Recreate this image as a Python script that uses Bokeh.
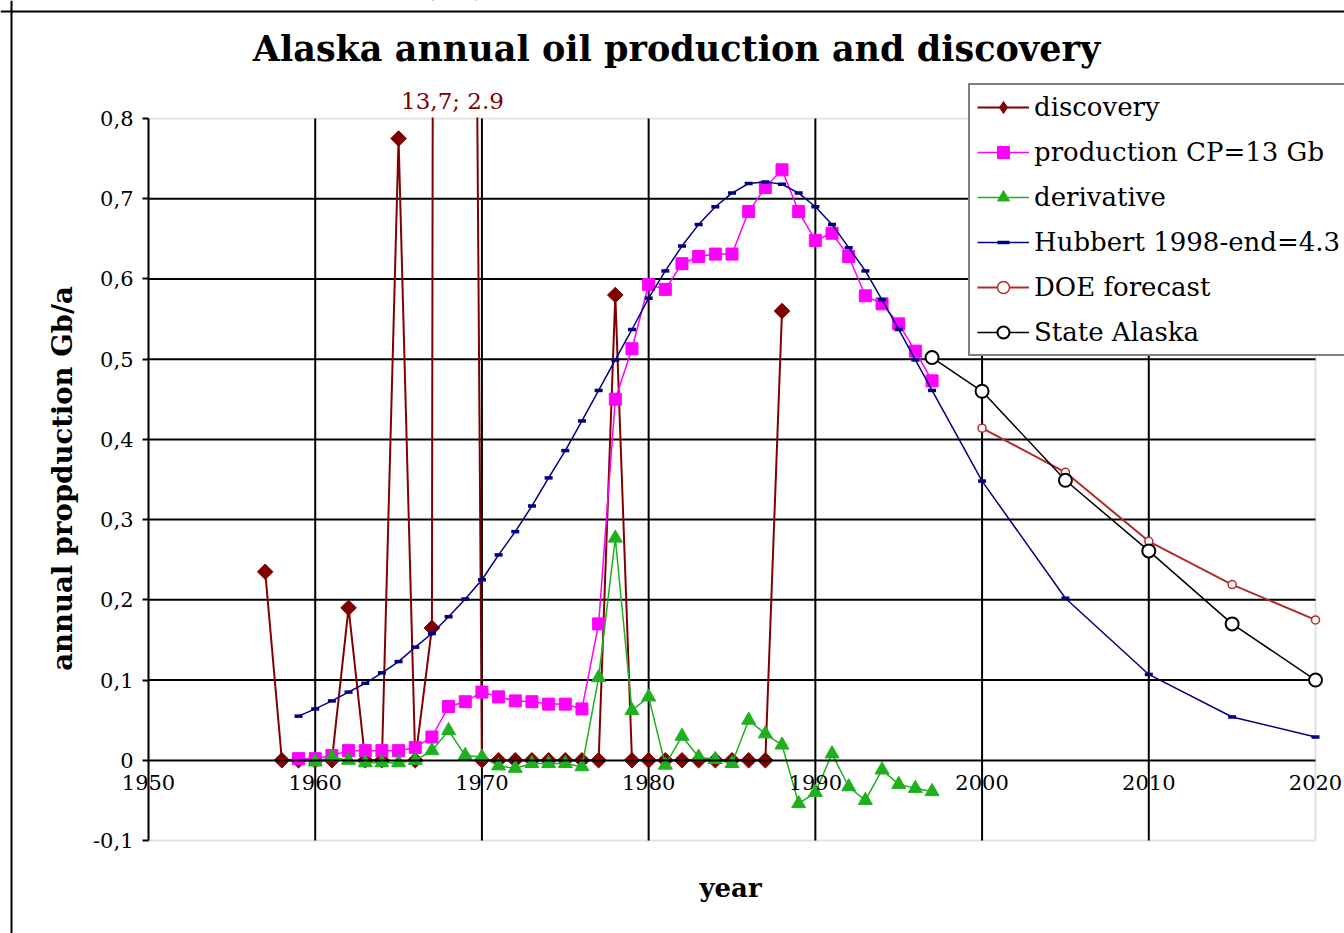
import math
from bokeh.plotting import figure
from bokeh.models import (Range1d, FixedTicker, Label, Legend, LegendItem, LinearAxis,
                          BoxAnnotation, Span)
from bokeh.embed import file_html
from bokeh.resources import INLINE

# ---------------- data ----------------
title_text = "Alaska annual oil production and discovery"
x_title = "year"
y_title = "annual propduction Gb/a"
offscale_note = "13,7; 2.9"

disc_years = list(range(1957, 1989))
disc_values = [0.235, 0, 0, 0, 0, 0.19, 0, 0, 0.775, 0, 0.165, 13.7, 2.9, 0,
               0, 0, 0, 0, 0, 0, 0, 0.58, 0, 0, 0, 0, 0, 0, 0, 0, 0, 0.56]

prod_years = list(range(1959, 1998))
prod_values = [0.002, 0.002, 0.006, 0.012, 0.012, 0.012, 0.012, 0.016, 0.029, 0.067,
               0.073, 0.085, 0.079, 0.074, 0.073, 0.070, 0.070, 0.064, 0.170, 0.450,
               0.513, 0.593, 0.587, 0.619, 0.628, 0.631, 0.631, 0.684, 0.714, 0.736,
               0.684, 0.648, 0.657, 0.628, 0.579, 0.569, 0.544, 0.510, 0.473]

deriv_years = list(range(1960, 1998))
deriv_values = [-0.002, 0.004, 0.0, -0.003, -0.003, -0.003, 0.0, 0.012, 0.037, 0.006,
                0.004, -0.007, -0.010, -0.004, -0.004, -0.004, -0.008, 0.103, 0.277, 0.062,
                0.079, -0.006, 0.030, 0.004, 0.001, -0.004, 0.050, 0.033, 0.019, -0.054,
                -0.040, 0.008, -0.033, -0.050, -0.012, -0.030, -0.035, -0.039]

hub_years = list(range(1959, 1998)) + [2000, 2005, 2010, 2015, 2020]
hub_values = [0.055, 0.064, 0.074, 0.085, 0.096, 0.109, 0.123, 0.141, 0.158, 0.179,
              0.201, 0.225, 0.256, 0.285, 0.317, 0.352, 0.386, 0.423, 0.461, 0.499,
              0.537, 0.576, 0.610, 0.641, 0.668, 0.690, 0.707, 0.719, 0.721, 0.718,
              0.707, 0.690, 0.668, 0.639, 0.610, 0.574, 0.537, 0.499, 0.461,
              0.348, 0.202, 0.107, 0.054, 0.029]

doe_years = [2000, 2005, 2010, 2015, 2020]
doe_values = [0.414, 0.359, 0.273, 0.219, 0.175]

state_years = [1997, 2000, 2005, 2010, 2015, 2020]
state_values = [0.502, 0.460, 0.349, 0.261, 0.170, 0.100]

series_labels = ["discovery", "production CP=13 Gb", "derivative",
                 "Hubbert 1998-end=4.3", "DOE forecast", "State Alaska"]

xtick_values = [1950, 1960, 1970, 1980, 1990, 2000, 2010, 2020]
xtick_labels = ["1950", "1960", "1970", "1980", "1990", "2000", "2010", "2020"]
ytick_values = [-0.1, 0.0, 0.1, 0.2, 0.3, 0.4, 0.5, 0.6, 0.7, 0.8]
ytick_labels = ["-0,1", "0", "0,1", "0,2", "0,3", "0,4", "0,5", "0,6", "0,7", "0,8"]
xgrid_values = [1960, 1970, 1980, 1990, 2000, 2010]
ygrid_values = [0.1, 0.2, 0.3, 0.4, 0.5, 0.6, 0.7]

# ---------------- styling / layout ----------------
FONT = "DejaVu Serif"
C_DISC = "#800000"
C_PROD = "#FF00FF"
C_DERIV = "#1FB01F"
C_HUB = "#000080"
C_DOE = "#B22A2A"
C_STATE = "#000000"
C_BORDER = "#9a9a9a"

W, H = 1344, 933
X0, X1, Y0, Y1 = 1950, 2020, -0.1, 0.8
# plot-area position on the canvas (pixels)
FL, FR, FT, FB = 148, 1315, 118, 840
SX = (FR - FL) / (X1 - X0)
SY = (FB - FT) / (Y1 - Y0)


def px_to_x(px):
    return X0 + (px - FL) / SX


def py_to_y(py):
    return Y1 - (py - FT) / SY


p = figure(width=W, height=H, title=None,
           x_range=Range1d(px_to_x(0), px_to_x(W)),
           y_range=Range1d(py_to_y(H), py_to_y(0)),
           output_backend="svg", toolbar_location=None,
           x_axis_location=None, y_axis_location=None, min_border=0)
p.grid.visible = False
p.outline_line_color = None
p.background_fill_color = "white"
p.border_fill_color = "white"

# plot area border
p.add_layout(BoxAnnotation(left=X0, right=X1, bottom=Y0, top=Y1, fill_color=None,
                           line_color=C_BORDER, line_width=2, level="underlay"))

# grid lines
p.segment(x0=xgrid_values, y0=[Y0] * len(xgrid_values), x1=xgrid_values,
          y1=[Y1] * len(xgrid_values), line_color="black", line_width=2)
p.segment(x0=[X0] * len(ygrid_values), y0=ygrid_values, x1=[X1] * len(ygrid_values),
          y1=ygrid_values, line_color="black", line_width=2)

yaxis = LinearAxis(ticker=FixedTicker(ticks=ytick_values), fixed_location=X0,
                   bounds=(Y0, Y1),
                   major_label_overrides=dict(zip(ytick_values, ytick_labels)))
yaxis.axis_line_color = "black"
yaxis.axis_line_width = 2
yaxis.major_tick_line_color = "black"
yaxis.major_tick_line_width = 2
yaxis.major_tick_out = 6
yaxis.major_tick_in = 0
yaxis.minor_tick_line_color = None
yaxis.major_label_standoff = 9
yaxis.major_label_text_font = FONT
yaxis.major_label_text_font_size = "21px"
yaxis.major_label_text_color = "black"
p.add_layout(yaxis, "left")

xaxis = LinearAxis(ticker=FixedTicker(ticks=xtick_values), fixed_location=0,
                   bounds=(X0, X1),
                   major_label_overrides=dict(zip(xtick_values, xtick_labels)))
xaxis.axis_line_color = "black"
xaxis.axis_line_width = 2
xaxis.major_tick_out = 0
xaxis.major_tick_in = 0
xaxis.major_tick_line_color = None
xaxis.minor_tick_line_color = None
xaxis.major_label_standoff = 15
xaxis.major_label_text_font = FONT
xaxis.major_label_text_font_size = "21px"
xaxis.major_label_text_color = "black"
p.add_layout(xaxis, "below")

# ---------------- series ----------------
r1l = p.line(disc_years, disc_values, line_color=C_DISC, line_width=2)
# small diamonds (used as the legend key) lie hidden under the larger rotated squares
r1k = p.scatter(disc_years, disc_values, marker="diamond", size=11,
                fill_color=C_DISC, line_color=C_DISC)
r1m = p.scatter(disc_years, disc_values, marker="square", angle=math.pi / 4, size=11,
                fill_color=C_DISC, line_color=C_DISC)

# the off-scale discovery spikes stop at the top of the plot area
p.quad(left=px_to_x(-50), right=px_to_x(W + 50), bottom=py_to_y(FT - 1), top=py_to_y(-200),
       fill_color="white", line_color=None)

r2l = p.line(prod_years, prod_values, line_color=C_PROD, line_width=1.5)
r2m = p.scatter(prod_years, prod_values, marker="square", size=12,
                fill_color=C_PROD, line_color=C_PROD)

r3l = p.line(deriv_years, deriv_values, line_color=C_DERIV, line_width=1.5)
r3m = p.scatter(deriv_years, deriv_values, marker="triangle", size=14,
                fill_color=C_DERIV, line_color=C_DERIV)

r4l = p.line(hub_years, hub_values, line_color=C_HUB, line_width=1.5)
r4m = p.scatter(hub_years, hub_values, marker="dash", size=8, line_width=3.5,
                line_color=C_HUB)

r5l = p.line(doe_years, doe_values, line_color=C_DOE, line_width=2)
r5m = p.scatter(doe_years, doe_values, marker="circle", size=8, line_width=1.5,
                fill_color="white", line_color=C_DOE)

r6l = p.line(state_years, state_values, line_color=C_STATE, line_width=1.5)
r6m = p.scatter(state_years, state_values, marker="circle", size=13, line_width=2,
                fill_color="white", line_color=C_STATE)

# outer chart border (top and left edges visible)
p.add_layout(Span(location=px_to_x(11), dimension="height", line_color="black", line_width=2))
p.add_layout(Span(location=py_to_y(11), dimension="width", line_color="black", line_width=2))

renderer_groups = [(r1l, r1k), (r2l, r2m), (r3l, r3m), (r4l, r4m), (r5l, r5m), (r6l, r6m)]
legend = Legend(items=[LegendItem(label=lab, renderers=list(rs))
                       for lab, rs in zip(series_labels, renderer_groups)],
                location=(968, H - 356))
legend.label_text_font = FONT
legend.label_text_font_size = "26px"
legend.label_text_color = "black"
legend.glyph_width = 52
legend.glyph_height = 30
legend.label_height = 30
legend.label_standoff = 5
legend.padding = 7
legend.spacing = 15
legend.margin = 0
legend.border_line_color = "black"
legend.border_line_width = 2
legend.background_fill_color = "white"
legend.background_fill_alpha = 1
p.add_layout(legend)

# ---------------- free texts ----------------
p.add_layout(Label(x=px_to_x(676), y=py_to_y(48), text=title_text,
                   text_font=FONT, text_font_style="bold", text_font_size="35px",
                   text_align="center", text_baseline="middle", text_color="black"))
p.add_layout(Label(x=px_to_x(61), y=py_to_y(478), text=y_title, angle=math.pi / 2,
                   text_font=FONT, text_font_style="bold", text_font_size="27.5px",
                   text_align="center", text_baseline="middle", text_color="black"))
p.add_layout(Label(x=px_to_x(730), y=py_to_y(887), text=x_title,
                   text_font=FONT, text_font_style="bold", text_font_size="26px",
                   text_align="center", text_baseline="middle", text_color="black"))
p.add_layout(Label(x=px_to_x(452), y=py_to_y(100), text=offscale_note,
                   text_font=FONT, text_font_size="23px",
                   text_align="center", text_baseline="middle", text_color=C_DISC))

open("out.html", "w").write(file_html(p, INLINE))
